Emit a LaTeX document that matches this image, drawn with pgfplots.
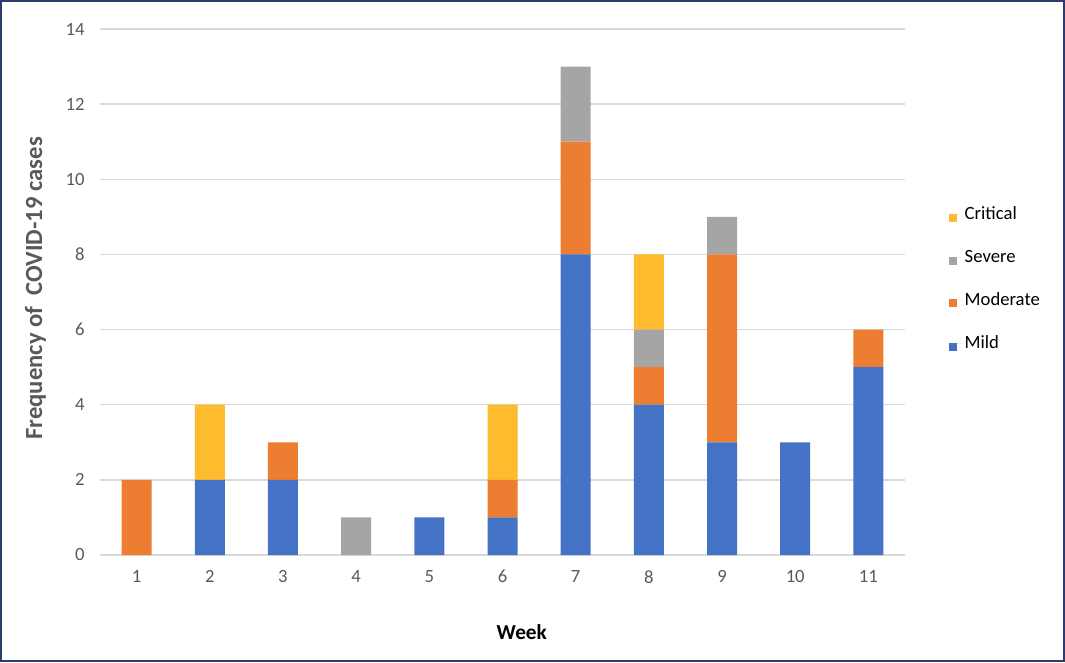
\documentclass[border=0pt]{standalone}
\usepackage{fontspec}
\setmainfont{Carlito}
\usepackage{pgfplots}
\pgfplotsset{compat=1.18}

\definecolor{mild}{HTML}{4472C4}
\definecolor{moderate}{HTML}{ED7D31}
\definecolor{severe}{HTML}{A5A5A5}
\definecolor{critical}{HTML}{FDBB2D}
\definecolor{ticktext}{HTML}{595959}
\definecolor{gridgray}{HTML}{D9D9D9}
\definecolor{framecol}{HTML}{2F3C6B}

\begin{document}
\begin{tikzpicture}
\path[use as bounding box] (0,0) rectangle (798.75pt,496.5pt);
\draw[framecol, line width=1.5pt] (0.75pt,0.75pt) rectangle (798pt,495.75pt);
\begin{axis}[
    at={(75pt,80.25pt)}, anchor=south west,
    scale only axis,
    width=603.75pt, height=394.5pt,
    ybar stacked,
    bar width=22.5pt,
    xmin=0.5, xmax=11.5,
    ymin=0, ymax=14,
    xtick={1,...,11},
    ytick={0,2,...,14},
    /pgf/number format/assume math mode=true,
    ymajorgrids=true,
    grid style={gridgray, line width=1.1pt},
    axis line style={draw=none},
    major tick length=0pt,
    tick label style={font=\fontsize{14}{16}\selectfont, text=ticktext},
    yticklabel style={xshift=-8pt},
    xticklabel style={yshift=-8pt},
    every axis y label/.style={at={(axis description cs:-0.08,0.507)}, rotate=90, anchor=center},
    every axis x label/.style={at={(axis description cs:0.524,-0.146)}, anchor=center},
    ylabel={\textbf{Frequency of~ COVID-19 cases}},
    ylabel style={font=\fontsize{18.5}{20}\selectfont, text=ticktext},
    xlabel={\textbf{Week}},
    xlabel style={font=\fontsize{16}{18}\selectfont, text=black},
    reverse legend,
    legend image code/.code={\fill[#1] (0pt,-5.5pt) rectangle (6pt,0.5pt);
        \path (0pt,0pt) -- (10pt,0pt);},
    legend cell align=left,
    legend style={draw=none, fill=none, at={(1.049,0.525)}, anchor=west,
        font=\fontsize{14}{16}\selectfont, row sep=17.25pt,
        nodes={inner sep=2pt}},
]
\addplot[fill=mild, draw=none] coordinates {
    (1,0) (2,2) (3,2) (4,0) (5,1) (6,1) (7,8) (8,4) (9,3) (10,3) (11,5)
};
\addplot[fill=moderate, draw=none] coordinates {
    (1,2) (2,0) (3,1) (4,0) (5,0) (6,1) (7,3) (8,1) (9,5) (10,0) (11,1)
};
\addplot[fill=severe, draw=none] coordinates {
    (1,0) (2,0) (3,0) (4,1) (5,0) (6,0) (7,2) (8,1) (9,1) (10,0) (11,0)
};
\addplot[fill=critical, draw=none] coordinates {
    (1,0) (2,2) (3,0) (4,0) (5,0) (6,2) (7,0) (8,2) (9,0) (10,0) (11,0)
};
\legend{Mild, Moderate, Severe, Critical}
\end{axis}
\end{tikzpicture}
\end{document}
